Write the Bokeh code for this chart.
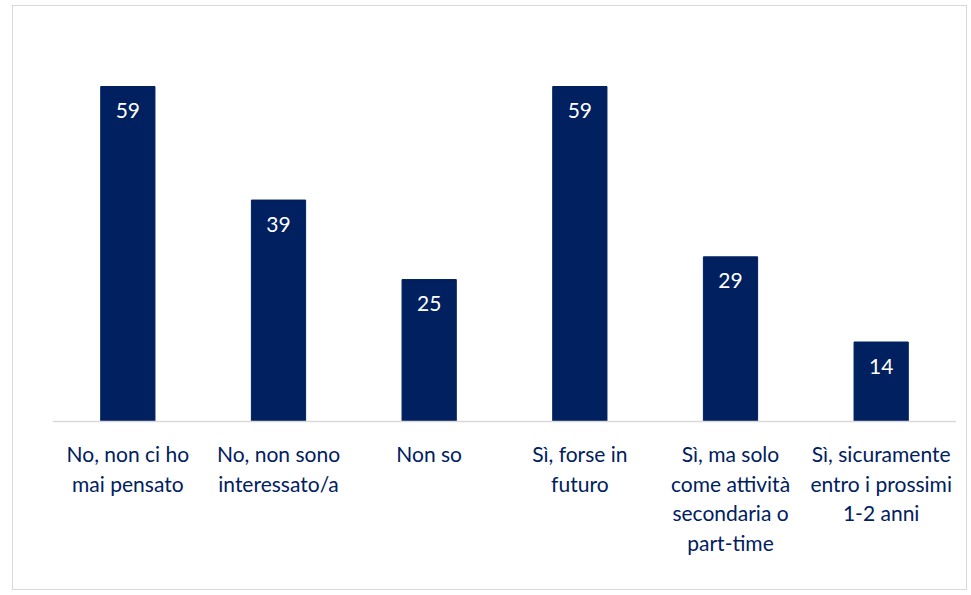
from bokeh.plotting import figure
from bokeh.models import ColumnDataSource, FactorRange, Range1d, LabelSet, Span
from bokeh.core.properties import value
from bokeh.embed import file_html
from bokeh.resources import INLINE

categories = [
    "No, non ci ho\nmai pensato",
    "No, non sono\ninteressato/a",
    "Non so",
    "Sì, forse in\nfuturo",
    "Sì, ma solo\ncome attività\nsecondaria o\npart-time",
    "Sì, sicuramente\nentro i prossimi\n1-2 anni",
]
values = [59, 39, 25, 59, 29, 14]
value_labels = [str(v) for v in values]

NAVY = "#002060"
FONT = "Lato"

src = ColumnDataSource(data=dict(cat=categories, val=values, lab=value_labels))

p = figure(
    x_range=FactorRange(*categories, range_padding=0),
    y_range=Range1d(-29.94, 69.92),
    width=955, height=585,
    output_backend="svg", toolbar_location=None,
    min_border_left=39, min_border_right=12, min_border_top=18, min_border_bottom=0,
)
p.styles = {"border": "1px solid #d9d9d9", "margin-left": "12px", "margin-top": "5px"}
p.outline_line_color = None
p.background_fill_color = "white"
p.border_fill_color = "white"

p.vbar(x="cat", top="val", width=0.36, source=src, fill_color=NAVY, line_color=NAVY)

p.add_layout(Span(location=0, dimension="width", line_color="#d9d9d9", line_width=1.5))

labels = LabelSet(x="cat", y="val", text="lab", source=src, y_offset=-24,
                  text_align="center", text_baseline="middle",
                  text_color="white", text_font_size="21px", text_font=value(FONT))
p.add_layout(labels)

# category labels, one centred LabelSet per text line
split = [c.split("\n") for c in categories]
max_lines = max(len(s) for s in split)
for i in range(max_lines):
    xs = [c for c, s in zip(categories, split) if len(s) > i]
    ts = [s[i] for s in split if len(s) > i]
    line_src = ColumnDataSource(data=dict(cat=xs, txt=ts, base=[0] * len(xs)))
    p.add_layout(LabelSet(x="cat", y="base", text="txt", source=line_src,
                          y_offset=-32 - 29.7 * i,
                          text_align="center", text_baseline="middle",
                          text_color=NAVY, text_font_size="21px",
                          text_font=value(FONT)))

p.xaxis.visible = False
p.yaxis.visible = False
p.xgrid.grid_line_color = None
p.ygrid.grid_line_color = None

open("out.html", "w").write(file_html(p, INLINE))
